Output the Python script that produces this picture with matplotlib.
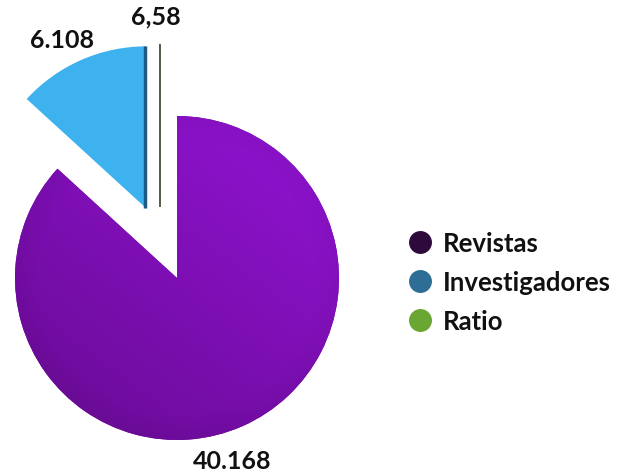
import numpy as np
import matplotlib.pyplot as plt
from matplotlib.lines import Line2D
from matplotlib.colors import LinearSegmentedColormap

# datos
categorias = ['Revistas', 'Investigadores', 'Ratio']
valores = [40168, 6108, 6.58]
etiquetas = ['40.168', '6.108', '6,58']
colores_leyenda = ['#2e0a3c', '#2e6d96', '#6aa632']
colores_pie = ['#7a0eb0', '#3db2ef', '#55604a']

W, H = 620, 477
R = 162.0            # radio del pie en pixeles
cx, cy = 177, 279    # centro del sector morado (pixeles)


def px(x, y):
    """pixel (desde arriba-izquierda) -> coordenadas de datos"""
    return (x - cx) / R, (H - y - (H - cy)) / R


fig = plt.figure(figsize=(W / 100, H / 100), dpi=100)
ax = fig.add_axes([0, 0, 1, 1])

wedges, _ = ax.pie(valores, colors=colores_pie, startangle=90, counterclock=False,
                   explode=[0, 0.47, 0.44], radius=1,
                   wedgeprops=dict(linewidth=0))

# ratio: sector casi invisible, se dibuja como linea
wedges[2].set_center((-17 / R, 0.44))
wedges[2].set_edgecolor(colores_pie[2])
wedges[2].set_linewidth(1.2)

# borde oscuro del sector azul (efecto 3D)
bx, by = wedges[1].center
ax.plot([bx - 0.01, bx - 0.01], [by, by + 1], color='#1b5a86', lw=2.5,
        solid_capstyle='butt', zorder=wedges[1].zorder + 0.1)

# degradado del sector morado
xx, yy = np.meshgrid(np.linspace(-1, 1, 300), np.linspace(-1, 1, 300))
grad = (xx * 0.6 + yy * 0.8)
rr = np.sqrt(xx ** 2 + yy ** 2)
grad = grad - np.clip(rr - 0.85, 0, None) * 2.0
cmap = LinearSegmentedColormap.from_list('morado', ['#560a74', '#700ca0', '#8a12c8'])
ax.imshow(grad, extent=(-1, 1, -1, 1), origin='lower', cmap=cmap,
          clip_path=wedges[0], zorder=wedges[0].zorder + 0.05, interpolation='bilinear')

# etiquetas de valores
fuente = ['Lato', 'DejaVu Sans']
for txt, pos in zip(etiquetas, [(232, 462), (62, 40), (156, 17)]):
    x, y = px(*pos)
    ax.text(x, y, txt, ha='center', va='center', fontsize=18, fontweight='bold',
            family=fuente, color='#111111')

ax.set_xlim(-cx / R, (W - cx) / R)
ax.set_ylim(-(H - cy) / R, cy / R)
ax.set_aspect('auto')
ax.axis('off')

handles = [Line2D([], [], marker='o', ls='', markersize=15.5, color=c) for c in colores_leyenda]
fig.legend(handles, categorias, loc='center left', bbox_to_anchor=(381 / W, 1 - 283 / H),
           frameon=False, handletextpad=0.3, labelspacing=0.6, handlelength=1.2,
           prop=dict(family=fuente, size=18.5, weight='bold'), labelcolor='#111111')

fig.savefig('out.png', dpi=100)
